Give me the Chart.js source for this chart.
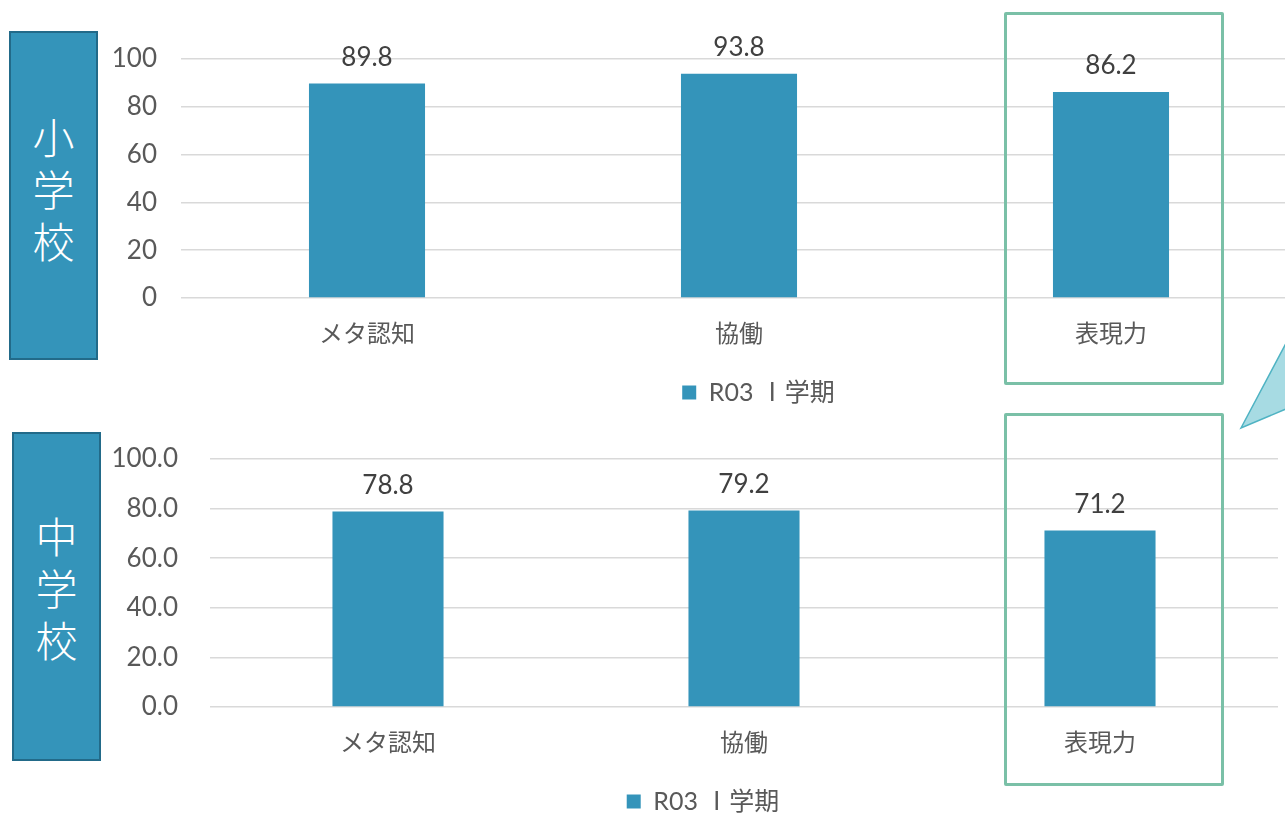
<!DOCTYPE html>
<html lang="ja">
<head>
<meta charset="utf-8">
<script src="https://cdn.jsdelivr.net/npm/chart.js@4.4.1/dist/chart.umd.min.js"></script>
<style>
  html, body { margin: 0; padding: 0; overflow: hidden; background: #fff; }
  body { width: 1285px; height: 814px; position: relative; font-family: Lato, "Noto Sans CJK JP", sans-serif; }
  .wrap { position: absolute; left: 0; }
  .side {
    position: absolute; background: #3494BA; border: 2px solid #226A89;
    color: #fff; font-family: "Noto Sans CJK JP", sans-serif; font-weight: 300; font-size: 42px; line-height: 52px;
    display: flex; flex-direction: column; align-items: center; justify-content: center; box-sizing: border-box;
  }
  .frame { position: absolute; border: 3px solid #7AC0A7; box-sizing: border-box; border-radius: 2px; }
  svg.callout { position: absolute; left: 0; top: 0; }
</style>
</head>
<body>
<div class="wrap" style="top:0;width:1297px;height:415px"><canvas id="elemChart"></canvas></div>
<div class="wrap" style="top:400px;width:1278px;height:424px"><canvas id="juniorChart"></canvas></div>

<div class="side" style="left:9px;top:31px;width:89px;height:329px;padding-bottom:16px"><span>小</span><span>学</span><span>校</span></div>
<div class="side" style="left:12px;top:432px;width:89px;height:329px;padding-bottom:20px"><span>中</span><span>学</span><span>校</span></div>

<div class="frame" style="left:1004px;top:12px;width:220px;height:373px"></div>
<div class="frame" style="left:1004px;top:413px;width:220px;height:373px"></div>

<svg class="callout" width="1285" height="814">
  <polygon points="1241,428 1300,317 1300,403" fill="#A7DBE3" stroke="#4FB3C3" stroke-width="1.5"/>
</svg>

<script>
const categories = ['メタ認知', '協働', '表現力'];
const seriesLabel = 'R03 Ⅰ学期';
const elemValues = [89.8, 93.8, 86.2];
const juniorValues = [78.8, 79.2, 71.2];
const yTicks = [0, 20, 40, 60, 80, 100];

const BAR = '#3494BA';
const GRID = '#D9D9D9';
const TEXT = '#595959';
const FONT = 'Lato, "Noto Sans CJK JP", sans-serif';

// 値ラベル（棒の上）
const valueLabels = {
  id: 'valueLabels',
  afterDatasetsDraw(chart) {
    const { ctx } = chart;
    const meta = chart.getDatasetMeta(0);
    const data = chart.data.datasets[0].data;
    ctx.save();
    ctx.font = '26px ' + FONT;
    ctx.fillStyle = '#404040';
    ctx.textAlign = 'center';
    ctx.textBaseline = 'middle';
    meta.data.forEach((bar, i) => {
      ctx.fillText(data[i].toFixed(1), bar.x, bar.y - 26);
    });
    ctx.restore();
  }
};

// 凡例を横にずらす
const legendShift = {
  id: 'legendShift',
  afterLayout(chart, args, opts) {
    const lg = chart.legend;
    if (lg && opts.dx) { lg.left += opts.dx; lg.right += opts.dx; }
  }
};

function renderBars(ctx, values, cfg) {
  return new Chart(ctx, {
    type: 'bar',
    data: {
      labels: categories,
      datasets: [{
        label: seriesLabel,
        data: values,
        backgroundColor: BAR,
        barPercentage: 0.312,
        categoryPercentage: 1
      }]
    },
    options: {
      responsive: true,
      maintainAspectRatio: false,
      animation: false,
      layout: { padding: { top: 59, left: 0, right: 0, bottom: 0 } },
      plugins: {
        legend: {
          position: 'bottom',
          labels: { boxWidth: 14, boxHeight: 14, color: TEXT, font: { family: FONT, size: 25 } }
        },
        tooltip: { enabled: false },
        legendShift: { dx: cfg.legendDx }
      },
      scales: {
        x: {
          grid: { display: false },
          border: { display: false },
          ticks: { color: TEXT, font: { family: FONT, size: 24 }, padding: 14 },
          afterFit: (s) => { s.height = 72; }
        },
        y: {
          min: 0, max: 100,
          grid: { color: GRID, lineWidth: 1.5, drawTicks: false },
          border: { display: false },
          afterBuildTicks: (s) => { s.ticks = yTicks.map(v => ({ value: v })); },
          ticks: {
            color: TEXT, font: { family: FONT, size: 26 }, padding: cfg.tickPad,
            callback: (v) => cfg.decimals ? Number(v).toFixed(1) : v
          },
          afterFit: (s) => { s.width = cfg.axisWidth; }
        }
      }
    },
    plugins: [valueLabels, legendShift]
  });
}

document.addEventListener('DOMContentLoaded', () => {
  renderBars(document.getElementById('elemChart').getContext('2d'), elemValues,
    { axisWidth: 181, tickPad: 24, decimals: false, legendDx: 110 });
  renderBars(document.getElementById('juniorChart').getContext('2d'), juniorValues,
    { axisWidth: 210, tickPad: 32, decimals: true, legendDx: 64 });
});
</script>
</body>
</html>
